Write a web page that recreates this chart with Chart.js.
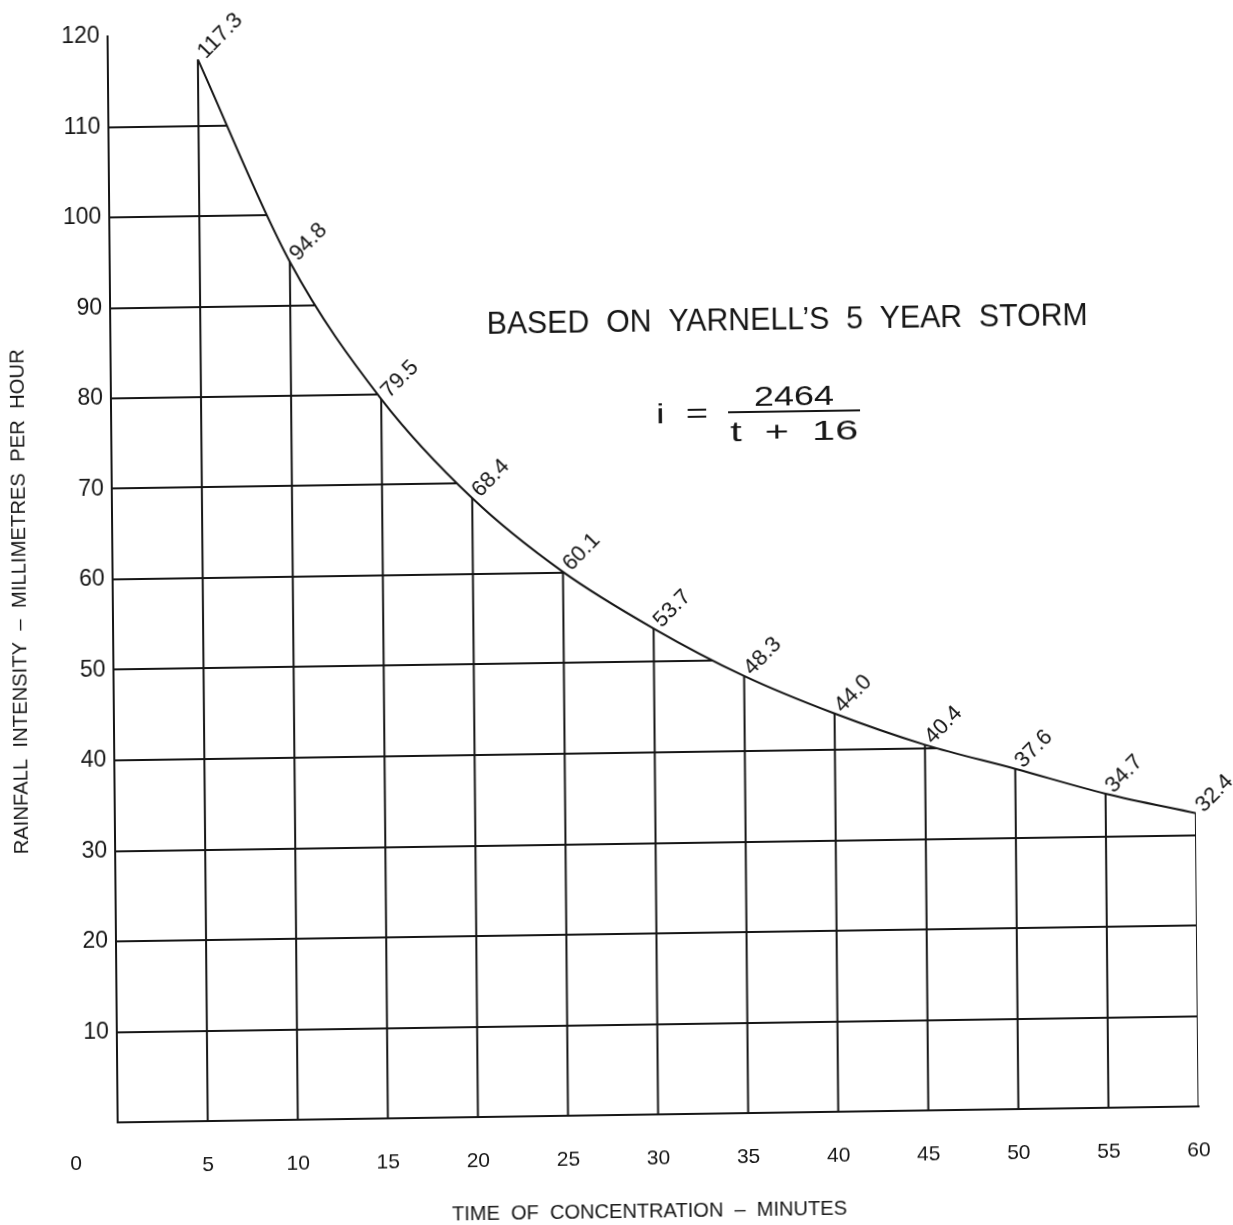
<!DOCTYPE html>
<html>
<head>
<meta charset="utf-8">
<title>Rainfall intensity</title>
<script src="https://cdn.jsdelivr.net/npm/chart.js@4.4.1/dist/chart.umd.min.js"></script>
<style>
  html, body { margin: 0; padding: 0; background: #fff; overflow: hidden; }
  #wrap { width: 1233px; height: 1225px; transform: matrix(1, -0.0148, 0.0093, 1, 0, 0); transform-origin: 50% 50%; }
</style>
</head>
<body>
<div id="wrap"><canvas id="chartIntensidad" width="1233" height="1225"></canvas></div>
<script>
// tiempo de concentracion (min) e intensidad (mm/h)
const tiempos = [5, 10, 15, 20, 25, 30, 35, 40, 45, 50, 55, 60];
const intensidades = [117.3, 94.8, 79.5, 68.4, 60.1, 53.7, 48.3, 44.0, 40.4, 37.6, 34.7, 32.4];

const ticksX = [0, 5, 10, 15, 20, 25, 30, 35, 40, 45, 50, 55, 60];
const ticksY = [0, 10, 20, 30, 40, 50, 60, 70, 80, 90, 100, 110, 120];

const titulo = "BASED  ON  YARNELL\u2019S  5  YEAR  STORM";
const formulaIzq = "i  =";
const formulaNum = "2464";
const formulaDen = "t  +  16";
const tituloX = "TIME  OF  CONCENTRATION  \u2013  MINUTES";
const tituloY = "RAINFALL  INTENSITY  \u2013  MILLIMETRES  PER  HOUR";

const TINTA = "#161616";
const FUENTE = '"Liberation Sans", Arial, sans-serif';

// curva con los puntos
const puntosCurva = tiempos.map((t, i) => ({ x: t, y: intensidades[i] }));

// lineas verticales desde el eje hasta la curva (null corta el trazo)
const puntosVerticales = [];
tiempos.forEach((t, i) => {
    puntosVerticales.push({ x: t, y: 0 });
    puntosVerticales.push({ x: t, y: intensidades[i] });
    puntosVerticales.push({ x: t, y: null });
});

// texto estirado/encogido a un ancho fijo
function textoAncho(ctx, txt, cx, baseY, ancho, size){
    ctx.font = size + "px " + FUENTE;
    const w = ctx.measureText(txt).width;
    ctx.save();
    ctx.translate(cx, baseY);
    ctx.scale(ancho / w, 1);
    ctx.textAlign = "center";
    ctx.textBaseline = "alphabetic";
    ctx.fillText(txt, 0, 0);
    ctx.restore();
}

const textos = {
    id: "textos",
    afterDatasetsDraw(chart){
        const ctx = chart.ctx;
        const meta = chart.getDatasetMeta(0);
        const xa = chart.scales.x;
        const ya = chart.scales.y;
        const area = chart.chartArea;
        ctx.save();

        // tapa los extremos de la reticula por encima de la curva en el borde derecho
        const yFin = ya.getPixelForValue(intensidades[intensidades.length - 1]);
        ctx.fillStyle = "#ffffff";
        ctx.fillRect(xa.right - 1.5, area.top - 2, 4, yFin - 3 - area.top);

        ctx.fillStyle = TINTA;

        // valores sobre la curva, inclinados
        ctx.font = "22px " + FUENTE;
        meta.data.forEach((el, i) => {
            ctx.save();
            ctx.translate(el.x + 8, el.y);
            ctx.rotate(-Math.PI / 4);
            ctx.textAlign = "left";
            ctx.textBaseline = "alphabetic";
            ctx.fillText(intensidades[i].toFixed(1), 0, 0);
            ctx.restore();
        });

        // origen
        ctx.font = "21px " + FUENTE;
        ctx.textAlign = "center";
        ctx.textBaseline = "middle";
        ctx.fillText("0", 71, 1156);

        // titulo y formula
        textoAncho(ctx, titulo, 790, 332, 601, 31);
        textoAncho(ctx, formulaIzq, 684, 424, 52, 28);
        textoAncho(ctx, formulaNum, 796, 408, 80, 28);
        textoAncho(ctx, formulaDen, 796, 443, 128, 28);
        ctx.strokeStyle = TINTA;
        ctx.lineWidth = 2;
        ctx.beginPath();
        ctx.moveTo(730, 414);
        ctx.lineTo(862, 414);
        ctx.stroke();

        // titulos de ejes
        textoAncho(ctx, tituloX, 644, 1218, 395, 21);
        ctx.save();
        ctx.translate(26, 593);
        ctx.rotate(-Math.PI / 2);
        textoAncho(ctx, tituloY, 0, 0, 505, 21);
        ctx.restore();

        ctx.restore();
    }
};

document.addEventListener("DOMContentLoaded", () => {
    const ctx = document.getElementById("chartIntensidad");

    new Chart(ctx, {
        type: "line",
        data: {
            datasets: [{
                label: "Intensidad",
                data: puntosCurva,
                borderColor: TINTA,
                borderWidth: 2,
                pointRadius: 0,
                cubicInterpolationMode: "monotone",
                fill: "end",
                backgroundColor: "#ffffff"
            }, {
                label: "Verticales",
                data: puntosVerticales,
                borderColor: TINTA,
                borderWidth: 2,
                pointRadius: 0,
                spanGaps: false,
                fill: false
            }]
        },
        options: {
            responsive: false,
            animation: false,
            events: [],
            layout: { padding: { top: 29, right: 39, left: 0, bottom: 0 } },
            plugins: {
                legend: { display: false },
                tooltip: { enabled: false }
            },
            scales: {
                x: {
                    type: "linear",
                    min: 0,
                    max: 60,
                    afterBuildTicks: s => { s.ticks = ticksX.map(v => ({ value: v })); },
                    afterFit: s => { s.height = 110; },
                    grid: { display: false },
                    border: { display: true, color: TINTA, width: 2 },
                    ticks: {
                        color: TINTA,
                        font: { family: FUENTE, size: 21 },
                        padding: 24,
                        maxRotation: 0,
                        callback: v => (v === 0 ? "" : v)
                    }
                },
                y: {
                    min: 0,
                    max: 120,
                    afterBuildTicks: s => { s.ticks = ticksY.map(v => ({ value: v })); },
                    afterFit: s => { s.width = 113; },
                    grid: {
                        color: c => (c.tick && (c.tick.value === 0 || c.tick.value === 120)) ? "rgba(0,0,0,0)" : TINTA,
                        lineWidth: 2,
                        drawTicks: false
                    },
                    border: { display: true, color: TINTA, width: 2 },
                    ticks: {
                        color: TINTA,
                        font: { family: FUENTE, size: 23 },
                        padding: 8,
                        callback: v => (v === 0 ? "" : v)
                    }
                }
            }
        },
        plugins: [textos]
    });
});
</script>
</body>
</html>
